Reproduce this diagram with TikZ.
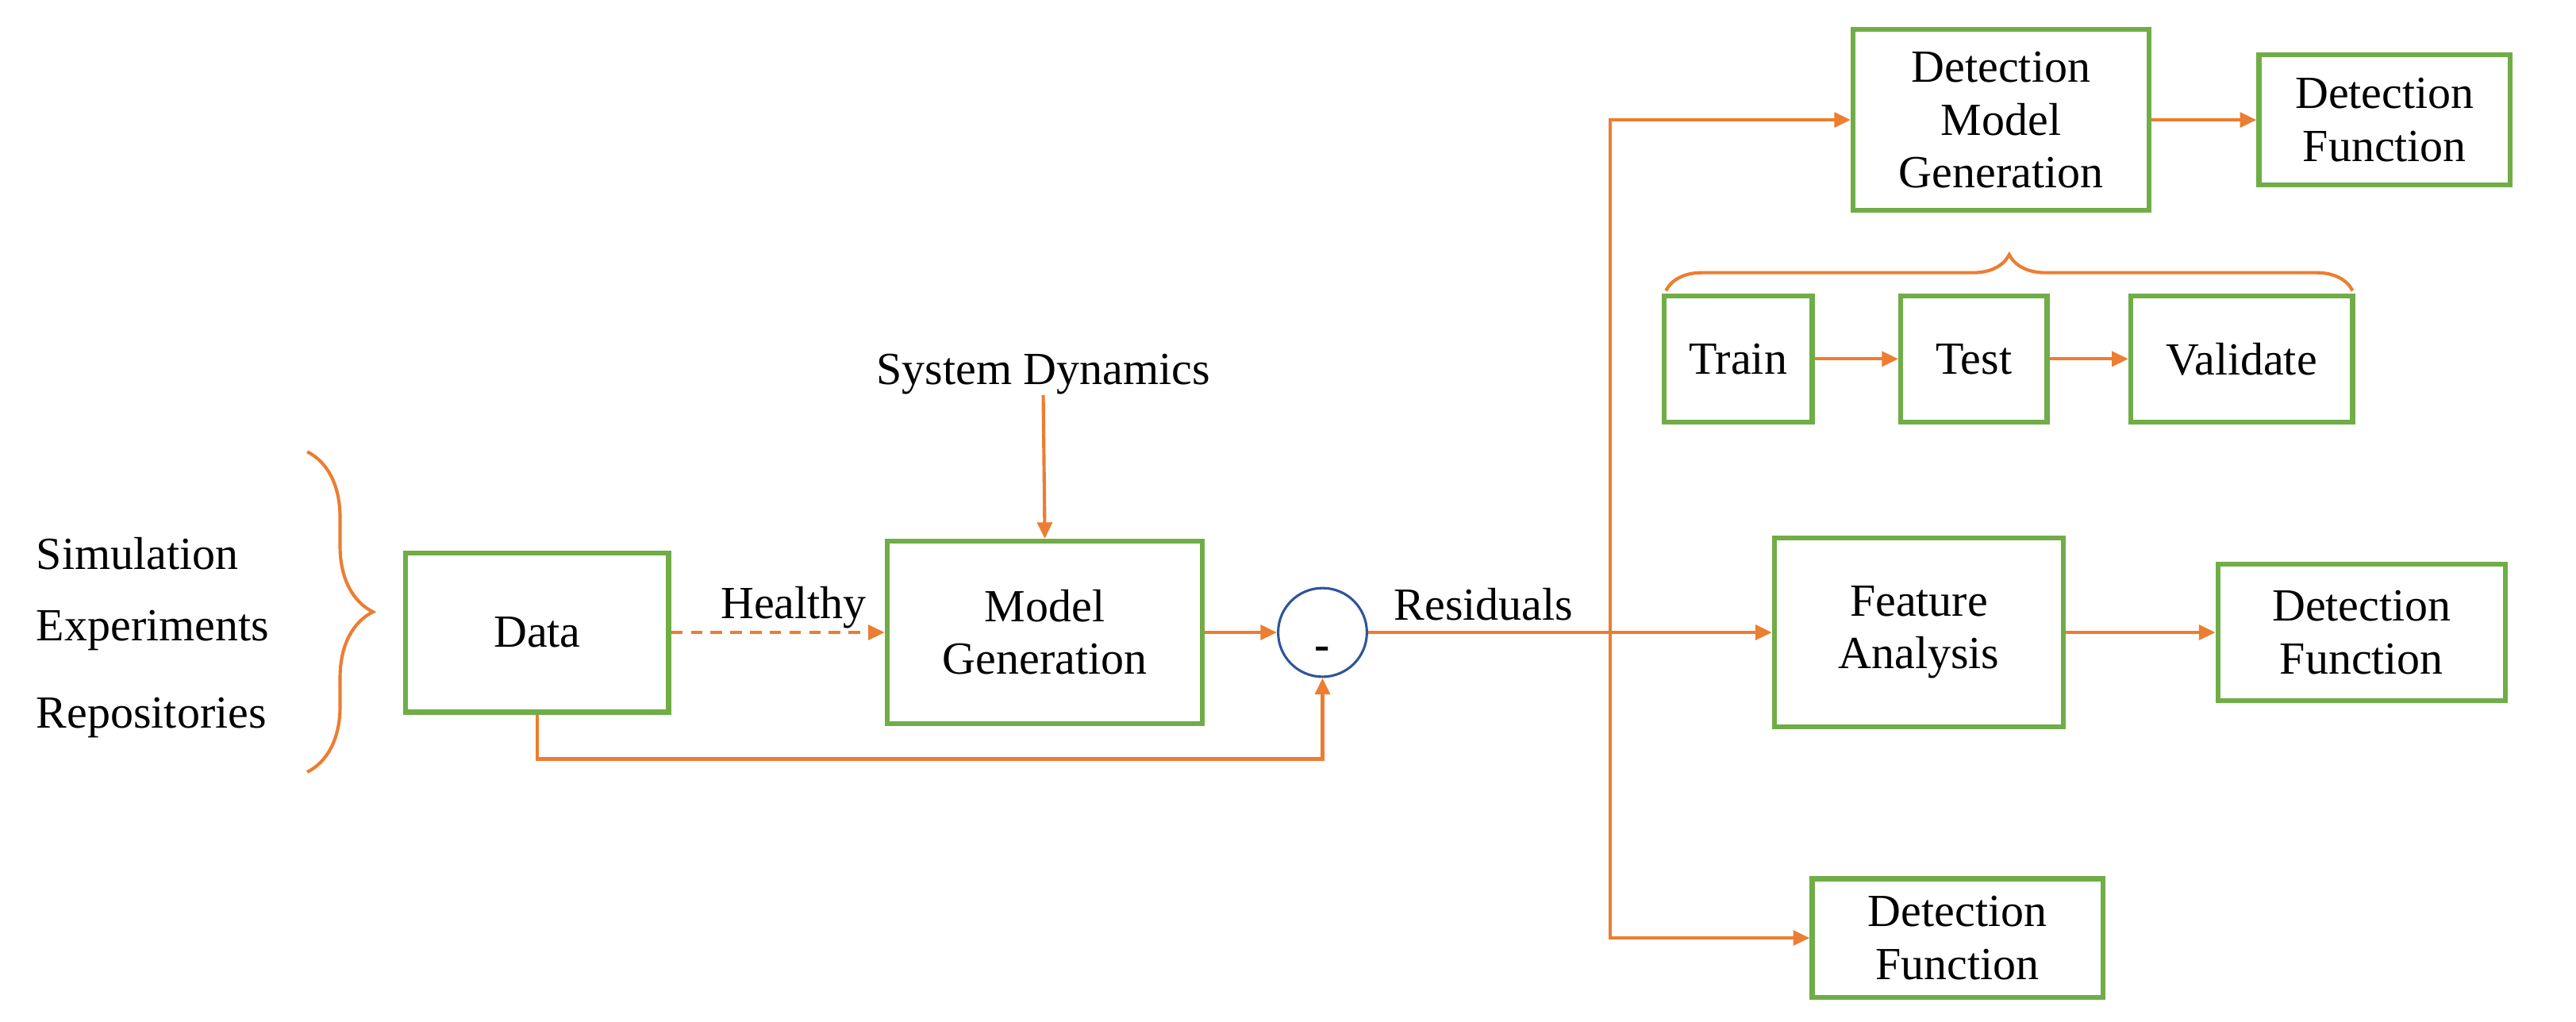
\documentclass[tikz,border=0pt]{standalone}
\usepackage{fontspec}
\setmainfont{Liberation Serif}
\usetikzlibrary{arrows.meta,decorations.pathreplacing}
\definecolor{org}{HTML}{ED7D31}
\definecolor{grn}{HTML}{70AD47}
\definecolor{blu}{HTML}{2F5597}
\begin{document}
\begin{tikzpicture}[x=1pt,y=-1pt,
  box/.style={draw=grn,line width=3pt,align=center,inner sep=0pt,font=\fontsize{28}{32}\selectfont},
  lbl/.style={font=\fontsize{28}{32}\selectfont,inner sep=0pt},
  ar/.style={draw=org,line width=2pt,-{Triangle[length=10pt,width=9pt]}},
  ln/.style={draw=org,line width=2pt},
  br/.style={draw=org,line width=2pt,decorate,decoration={brace,amplitude=#1}}]
\useasboundingbox (0,0) rectangle (1568,622);
\node[lbl,anchor=west] (sim) at (22,337) {Simulation};
\node[lbl,anchor=west] (exp) at (22,384) {Experiments};
\node[lbl,anchor=west] (rep) at (22,437) {Repositories};
\draw[br=40pt] (187,275) -- (187,470);
\node[box,minimum width=160pt,minimum height=97pt] (data) at (327,385) {Data};
\node[box,minimum width=192pt,minimum height=111pt] (mg) at (636,385) {Model\\Generation};
\node[lbl] (sd) at (635,228) {System Dynamics};
\node[draw=blu,line width=1.5pt,circle,minimum size=54pt,inner sep=0pt] (c) at (805,385) {};
\node[lbl,font=\fontsize{28}{32}\selectfont\bfseries] at (805,398) {-};
\node[lbl] (res) at (903,368) {Residuals};
\coordinate (j) at (980,385);
\node[box,minimum width=180pt,minimum height=110pt] (dmg) at (1218,73) {Detection\\Model\\Generation};
\node[box,minimum width=153pt,minimum height=79pt] (df1) at (1451.5,73) {Detection\\Function};
\node[box,minimum width=90pt,minimum height=77pt] (tr) at (1058,218.5) {Train};
\node[box,minimum width=89pt,minimum height=77pt] (te) at (1201.5,218.5) {Test};
\node[box,minimum width=135pt,minimum height=77pt] (va) at (1364.5,218.5) {Validate};
\draw[br=22pt] (1014,177) -- (1432,177);
\node[box,minimum width=176pt,minimum height=115pt] (fa) at (1168,385) {Feature\\Analysis};
\node[box,minimum width=175pt,minimum height=83pt] (df2) at (1437.5,385) {Detection\\Function};
\node[box,minimum width=177pt,minimum height=72pt] (df3) at (1191.5,571) {Detection\\Function};
\draw[ar,dashed,dash pattern=on 7pt off 5pt] (data.east) -- (mg.west);
\node[lbl] at (483,370) {Healthy};
\draw[ar] (sd.south) -- (mg.north);
\draw[ar] (mg.east) -- (c.west);
\draw[ar] (data.south) |- (805,462) -- (c.south);
\draw[ln] (c.east) -- (j);
\draw[ar] (j) |- (dmg.west);
\draw[ar] (j) -- (fa.west);
\draw[ar] (j) |- (df3.west);
\draw[ar] (dmg.east) -- (df1.west |- dmg.east);
\draw[ar] (tr) -- (te);
\draw[ar] (te) -- (va);
\draw[ar] (fa.east) -- (df2.west);
\end{tikzpicture}
\end{document}
